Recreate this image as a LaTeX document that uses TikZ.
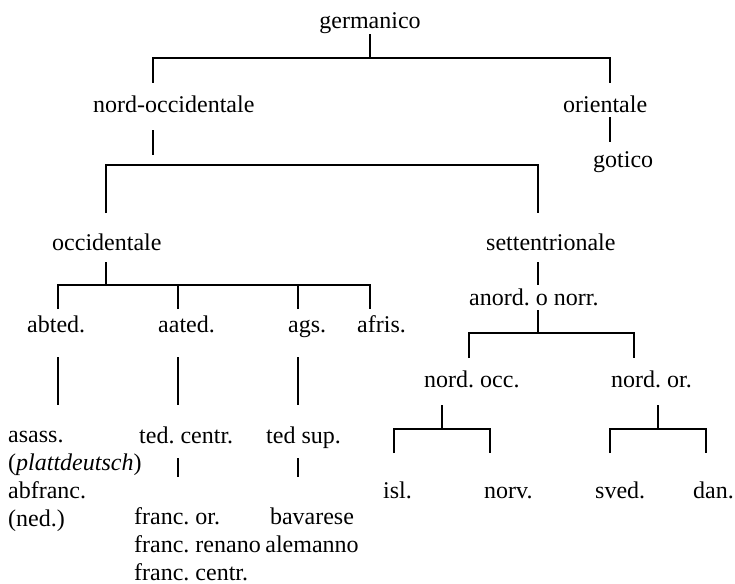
\documentclass[tikz,border=0pt]{standalone}
\usepackage{fontspec}
\setmainfont{Liberation Serif}
\frenchspacing

\begin{document}
\begin{tikzpicture}[x=1pt, y=-1pt,
    lang/.style={inner sep=0pt, anchor=base west, align=left,
      font=\fontsize{24}{28}\selectfont},
    branch/.style={line width=1.8pt}]
  \useasboundingbox (0,0) rectangle (735,583);
  %
  % the languages (several lines: base is the last line)
  \node[lang, anchor=base] (germ) at (370,29) {germanico};
  \node[lang] (nwgerm) at (93,112) {nord-occidentale};
  \node[lang] (egerm) at (563,112) {orientale};
  \node[lang] (goth) at (593,167) {gotico};
  \node[lang] (wgerm) at (52,250) {occidentale};
  \node[lang] (ngerm) at (486,250) {settentrionale};
  \node[lang] (onorse) at (469,305) {anord. o norr.};
  \node[lang] (abted) at (27,332) {abted.};
  \node[lang] (aated) at (158,332) {aated.};
  \node[lang] (ags) at (288,332) {ags.};
  \node[lang] (afris) at (357,332) {afris.};
  \node[lang] (nwnorse) at (424,387) {nord. occ.};
  \node[lang] (enorse) at (611,387) {nord. or.};
  \node[lang] (lowger) at (8,526) {asass.\\(\textit{plattdeutsch})\\abfranc.\\(ned.)};
  \node[lang] (midger) at (139,443) {ted. centr.};
  \node[lang] (upger) at (266,443) {ted sup.};
  \node[lang] (franc) at (134,580) {franc. or.\\franc. renano\\franc. centr.};
  \node[lang, align=center, anchor=base] (bav) at (312,552) {bavarese\\alemanno};
  \node[lang] (isl) at (383,498) {isl.};
  \node[lang] (norv) at (484,498) {norv.};
  \node[lang] (sved) at (595,498) {sved.};
  \node[lang] (dan) at (693,498) {dan.};
  %
  % ends of the branches
  \coordinate (germBar) at (370,58);
  \coordinate (nwgermIn) at (153,83);
  \coordinate (egermIn) at (610,83);
  \coordinate (nwgermOut) at (153,130);
  \coordinate (egermOut) at (610,117);
  \coordinate (wgermIn) at (106,213);
  \coordinate (ngermIn) at (538,213);
  \coordinate (wgermOut) at (106,262);
  \coordinate (ngermOut) at (538,262);
  \coordinate (onorseOut) at (538,310);
  \coordinate (abtedIn) at (58,309);
  \coordinate (aatedIn) at (178,309);
  \coordinate (agsIn) at (298,309);
  \coordinate (afrisIn) at (370,309);
  \coordinate (nwnorseIn) at (469,358);
  \coordinate (enorseIn) at (634,358);
  \coordinate (nwnorseOut) at (442,405);
  \coordinate (enorseOut) at (658,405);
  \coordinate (islIn) at (394,453);
  \coordinate (norvIn) at (490,453);
  \coordinate (svedIn) at (610,453);
  \coordinate (danIn) at (706,453);
  %
  % germanico
  \draw[branch] (germ.south) -- (germBar);
  \draw[branch] (nwgermIn) -- ++(0,-25) -| (egermIn);
  \draw[branch] (egermOut) -- ++(0,25);
  %
  % nord-occidentale
  \draw[branch] (nwgermOut) -- ++(0,25);
  \draw[branch] (wgermIn) -- ++(0,-48) -| (ngermIn);
  %
  % occidentale
  \draw[branch] (wgermOut) -- ++(0,23);
  \draw[branch] (abtedIn) -- ++(0,-24) -| (afrisIn);
  \foreach \leg in {aatedIn, agsIn} {
    \draw[branch] (\leg) -- ++(0,-24);
  }
  \foreach \col in {58, 178, 298} {
    \coordinate (stem\col) at (\col,357);
    \draw[branch] (stem\col) -- ++(0,48);
  }
  \foreach \col in {178, 298} {
    \coordinate (sub\col) at (\col,458);
    \draw[branch] (sub\col) -- ++(0,19);
  }
  %
  % settentrionale
  \draw[branch] (ngermOut) -- ++(0,23);
  \draw[branch] (onorseOut) -- ++(0,23);
  \draw[branch] (nwnorseIn) -- ++(0,-25) -| (enorseIn);
  \draw[branch] (nwnorseOut) -- ++(0,24);
  \draw[branch] (islIn) -- ++(0,-24) -| (norvIn);
  \draw[branch] (enorseOut) -- ++(0,24);
  \draw[branch] (svedIn) -- ++(0,-24) -| (danIn);

\end{tikzpicture}
\end{document}
